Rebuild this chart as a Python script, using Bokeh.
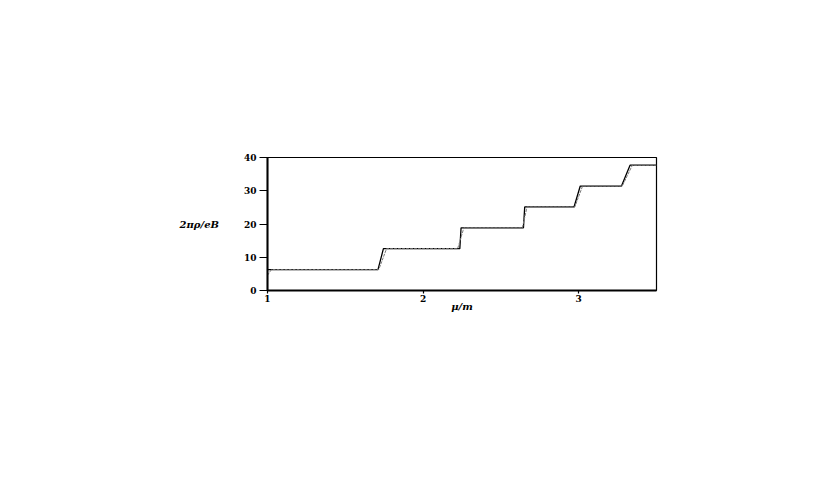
from bokeh.plotting import figure
from bokeh.models import FixedTicker, Range1d
from bokeh.embed import file_html
from bokeh.resources import INLINE

# chemical potential mu/m and density 2*pi*rho/eB
mu_solid = [1.0, 1.71, 1.745, 2.236, 2.244, 2.645, 2.653, 2.97, 3.01, 3.275, 3.33, 3.5]
rho_solid = [6.28, 6.28, 12.57, 12.57, 18.85, 18.85, 25.13, 25.13, 31.42, 31.42, 37.70, 37.70]

mu_dash = [1.0, 1.025, 1.715, 1.765, 2.222, 2.262, 2.638, 2.668, 2.975, 3.025, 3.28, 3.345, 3.5]
rho_dash = [4.6, 6.28, 6.28, 12.57, 12.57, 18.85, 18.85, 25.13, 25.13, 31.42, 31.42, 37.70, 37.70]

x_ticks = [1, 2, 3]
y_ticks = [0, 10, 20, 30, 40]

p = figure(output_backend="svg", toolbar_location=None,
           frame_width=389, frame_height=133,
           min_border_left=267, min_border_right=152,
           min_border_top=157, min_border_bottom=170,
           x_range=Range1d(1, 3.5), y_range=Range1d(0, 40))

p.line(mu_solid, rho_solid, line_color="black", line_width=1.3)
p.line(mu_dash, rho_dash, line_color="#7a7a7a", line_width=1.0, line_dash="3 1")

p.xgrid.visible = False
p.ygrid.visible = False
p.outline_line_color = "black"
p.outline_line_width = 1.2
p.outline_line_alpha = 1.0

p.xaxis.ticker = FixedTicker(ticks=x_ticks)
p.yaxis.ticker = FixedTicker(ticks=y_ticks)
p.xaxis.minor_tick_line_color = None
p.yaxis.minor_tick_line_color = None

for ax in (p.xaxis, p.yaxis):
    ax.axis_line_width = 2
    ax.axis_line_color = "black"
    ax.major_tick_line_color = "black"
    ax.major_tick_line_width = 1.2
    ax.major_label_text_font = "DejaVu Serif"
    ax.major_label_text_font_style = "bold"
    ax.major_label_text_font_size = "9px"
    ax.major_label_text_color = "black"
    ax.axis_label_text_font = "DejaVu Serif"
    ax.axis_label_text_font_style = "bold italic"
    ax.axis_label_text_font_size = "10px"
    ax.axis_label_text_color = "black"

p.xaxis.major_tick_in = 0
p.xaxis.major_tick_out = 3
p.xaxis.major_label_standoff = 1
p.xaxis.axis_label = "μ/m"
p.xaxis.axis_label_standoff = -4

p.yaxis.major_tick_in = 0
p.yaxis.major_tick_out = 8
p.yaxis.major_label_standoff = 3
p.yaxis.axis_label = "2πρ/eB"
p.yaxis.axis_label_orientation = "horizontal"
p.yaxis.axis_label_standoff = 22

open("out.html", "w").write(file_html(p, INLINE))
